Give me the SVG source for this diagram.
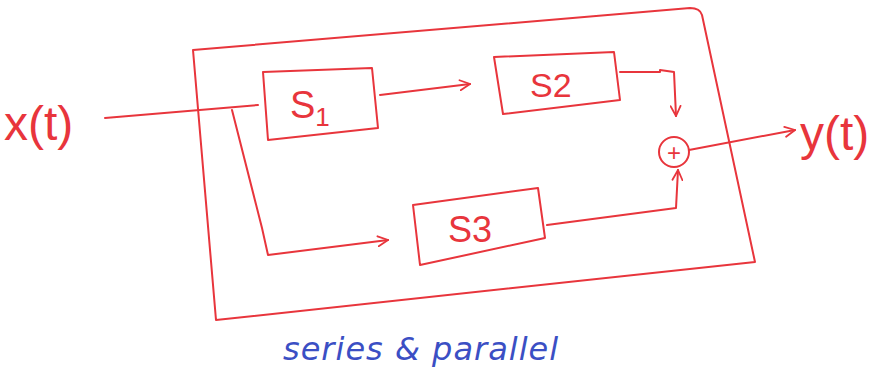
<svg xmlns="http://www.w3.org/2000/svg" width="883" height="378" viewBox="0 0 883 378">
<style>
.ln{fill:none;stroke:#e8353c;stroke-width:2;stroke-linecap:round;stroke-linejoin:round}
.rt{fill:#e8353c;font-family:"Liberation Sans",sans-serif}
.bt{fill:#3b4fc4;font-family:"DejaVu Sans",sans-serif;font-style:italic}
</style>
<defs>
<marker id="ah" viewBox="0 0 12 12" refX="11" refY="6" markerWidth="12" markerHeight="12" markerUnits="userSpaceOnUse" orient="auto">
<path d="M1,1 L11,6 L1,11" fill="none" stroke="#e8353c" stroke-width="1.8" stroke-linecap="round"/>
</marker>
</defs>
<rect width="883" height="378" fill="#fff"/>
<g id="frame">
<path class="ln" d="M193,50 L690,8 Q700,8 702,15 L755,262 L216,320 L193,50"/>
</g>
<g id="S1">
<path class="ln" d="M263,72 L372,68 L378,128 L268,140 Z"/>
<text class="rt" x="290" y="118" font-size="38">S<tspan font-size="26" dy="8">1</tspan></text>
</g>
<g id="S2">
<path class="ln" d="M494,57 L614,52 L620,100 L503,114 Z"/>
<text class="rt" x="530" y="97" font-size="34">S2</text>
</g>
<g id="S3">
<path class="ln" d="M413,205 L538,188 L545,238 L420,265 Z"/>
<text class="rt" x="448" y="242" font-size="36">S3</text>
</g>
<g id="sum">
<circle class="ln" cx="674" cy="152" r="15"/>
<text class="rt" x="674" y="161" font-size="24" text-anchor="middle">+</text>
</g>
<g id="xt">
<text class="rt" x="4" y="140" font-size="48">x(t)</text>
</g>
<g id="yt">
<text class="rt" x="800" y="150" font-size="48">y(t)</text>
</g>
<g id="connectors">
<path class="ln" d="M105,118 L258,105"/>
<path class="ln" d="M232,110 L262,228 L268,255 L388,240" marker-end="url(#ah)"/>
<path class="ln" d="M380,95 L470,84" marker-end="url(#ah)"/>
<path class="ln" d="M620,72 L660,72 L660,70 L674,72 L676,116" marker-end="url(#ah)"/>
<path class="ln" d="M547,225 L676,208 L678,170" marker-end="url(#ah)"/>
<path class="ln" d="M689,150 L795,130" marker-end="url(#ah)"/>
</g>
<g id="caption">
<text class="bt" x="283" y="360" font-size="32" letter-spacing="1">series &amp; parallel</text>
</g>
</svg>
